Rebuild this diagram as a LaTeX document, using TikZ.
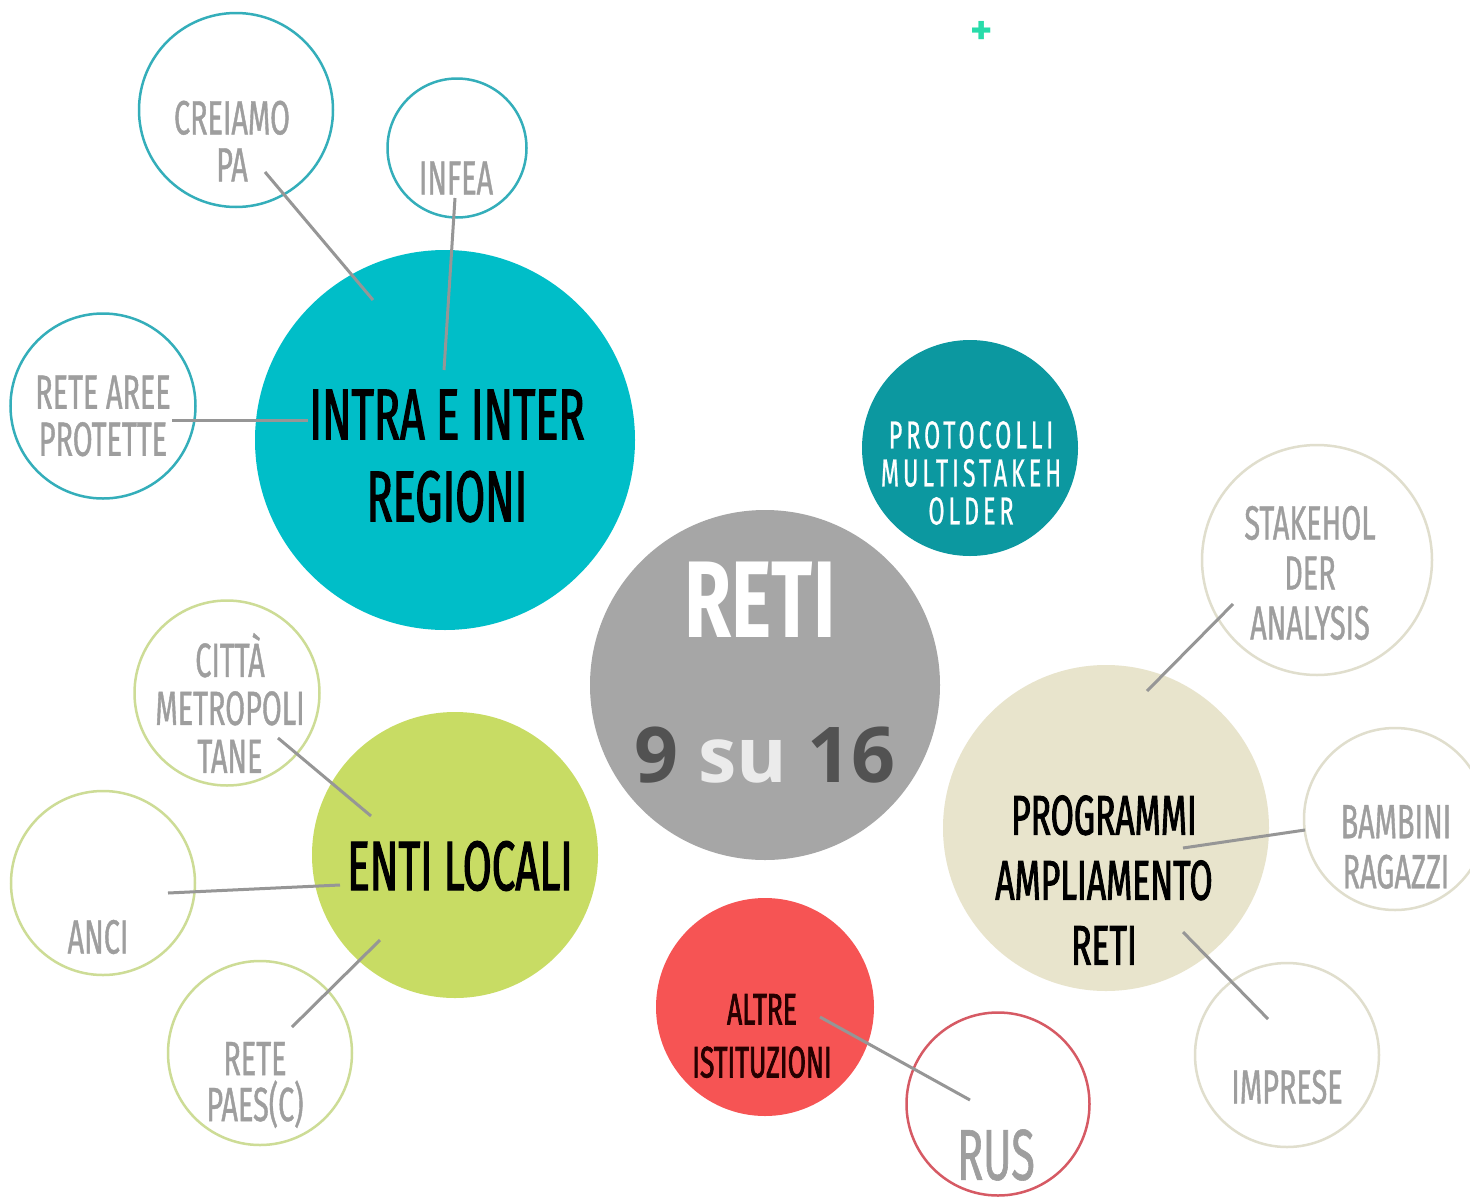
\documentclass[tikz,border=0pt]{standalone}
\usepackage{fontspec}
\setmainfont{Fira Sans}
\newfontfamily\cond[FakeStretch=0.6,FakeBold=0.8]{Fira Sans}
\newfontfamily\condb[FakeStretch=0.6,FakeBold=1.6]{Fira Sans}
\newfontfamily\condsp[FakeStretch=0.6,LetterSpace=10,FakeBold=0.6]{Fira Sans}
\newfontfamily\retifont[FakeStretch=0.7]{Fira Sans}
\newfontfamily\numfont{Open Sans}
\definecolor{tealline}{RGB}{52,174,186}
\definecolor{cyanfill}{RGB}{0,190,200}
\definecolor{protofill}{RGB}{12,152,160}
\definecolor{retifill}{RGB}{166,166,166}
\definecolor{beigefill}{RGB}{232,228,204}
\definecolor{beigeline}{RGB}{224,222,205}
\definecolor{greenfill}{RGB}{200,220,100}
\definecolor{greenline}{RGB}{205,220,150}
\definecolor{redfill}{RGB}{246,84,84}
\definecolor{redline}{RGB}{214,90,100}
\definecolor{labelgray}{RGB}{158,158,158}
\definecolor{linkgray}{RGB}{150,150,150}
\definecolor{numgray}{RGB}{82,82,82}
\definecolor{plusgreen}{RGB}{40,220,170}
\begin{document}
\begin{tikzpicture}[x=1pt,y=-1pt,
  disc/.style={circle,inner sep=0pt,fill=#1,draw=none},
  ring/.style={circle,inner sep=0pt,draw=#1,line width=2.5pt,fill=none},
  link/.style={draw=linkgray,line width=3pt},
  small/.style={text=labelgray,align=center,font=\cond\fontsize{48}{47}\selectfont},
  big/.style={text=black,align=center,font=\condb\fontsize{72}{82}\selectfont}]
\useasboundingbox (0,0) rectangle (1470,1197);
\fill[white] (0,0) rectangle (1470,1197);

% filled circles
\node[disc=cyanfill,minimum size=380pt] (intra) at (445,440) {};
\node[disc=protofill,minimum size=216pt] (proto) at (970,448) {};
\node[disc=retifill,minimum size=350pt] (reti) at (765,685) {};
\node[disc=beigefill,minimum size=326pt] (prog) at (1106,828) {};
\node[disc=redfill,minimum size=218pt] (altre) at (765,1007) {};
\node[disc=greenfill,minimum size=286pt] (enti) at (455,855) {};

% outline circles
\node[ring=tealline,minimum size=194pt] (creiamo) at (236,110) {};
\node[ring=tealline,minimum size=139pt] (infea) at (457,148) {};
\node[ring=tealline,minimum size=185pt] (aree) at (103,406) {};
\node[ring=beigeline,minimum size=230pt] (stake) at (1317,560) {};
\node[ring=beigeline,minimum size=182pt] (bambini) at (1395,819) {};
\node[ring=beigeline,minimum size=184pt] (imprese) at (1287,1055) {};
\node[ring=redline,minimum size=183pt] (rus) at (998,1104) {};
\node[ring=greenline,minimum size=185pt] (citta) at (227,693) {};
\node[ring=greenline,minimum size=184pt] (anci) at (103,883) {};
\node[ring=greenline,minimum size=184pt] (paes) at (260,1053) {};

% connector end points
\coordinate (creiamoE) at (265,172);  \coordinate (intraA) at (373,300);
\coordinate (infeaE) at (455,198);    \coordinate (intraB) at (444,370);
\coordinate (areeE) at (172,420);     \coordinate (intraC) at (308,420);
\coordinate (cittaE) at (278,738);    \coordinate (entiA) at (371,816);
\coordinate (anciE) at (168,893);     \coordinate (entiB) at (340,885);
\coordinate (paesE) at (292,1027);    \coordinate (entiC) at (380,940);
\coordinate (stakeE) at (1233,604);   \coordinate (progA) at (1147,691);
\coordinate (bambiniE) at (1305,830); \coordinate (progB) at (1183,848);
\coordinate (impreseE) at (1268,1019);\coordinate (progC) at (1183,932);
\coordinate (rusE) at (970,1100);     \coordinate (altreA) at (820,1017);

\draw[link] (creiamoE) -- (intraA);
\draw[link] (infeaE) -- (intraB);
\draw[link] (areeE) -- (intraC);
\draw[link] (cittaE) -- (entiA);
\draw[link] (anciE) -- (entiB);
\draw[link] (paesE) -- (entiC);
\draw[link] (stakeE) -- (progA);
\draw[link] (bambiniE) -- (progB);
\draw[link] (impreseE) -- (progC);
\draw[link] (rusE) -- (altreA);

% texts
\node[small] (tcreiamo) at (232,141) {CREIAMO\\PA};
\node[small] (tinfea) at (456,178) {INFEA};
\node[small] (taree) at (103,416) {RETE AREE\\PROTETTE};
\node[big] (tintra) at (447,456) {INTRA E INTER\\REGIONI};
\node[text=white,align=center,font=\condsp\fontsize{39}{38}\selectfont] (tproto) at (971,473) {PROTOCOLLI\\MULTISTAKEH\\OLDER};
\node[text=white,font=\retifont\bfseries\fontsize{109}{110}\selectfont] (treti) at (760,600) {RETI};
\node[font=\numfont\bfseries\fontsize{77}{80}\selectfont,text=numgray] (tnum) at (765,755) {9 \textcolor{white!92!black}{su} 16};
\node[small,font=\cond\fontsize{48}{50}\selectfont] (tstake) at (1310,573) {STAKEHOL\\DER\\ANALYSIS};
\node[text=black,align=center,font=\condb\fontsize{56}{65}\selectfont] (tprog) at (1104,880) {PROGRAMMI\\AMPLIAMENTO\\RETI};
\node[small,font=\cond\fontsize{48}{50}\selectfont] (tbambini) at (1396,847) {BAMBINI\\RAGAZZI};
\node[small] (timprese) at (1287,1087) {IMPRESE};
\node[text=black!85!red,align=center,font=\condb\fontsize{44}{53}\selectfont] (taltre) at (762,1036) {ALTRE\\ISTITUZIONI};
\node[small,font=\cond\fontsize{72}{72}\selectfont] (trus) at (996,1155) {RUS};
\node[big,font=\condb\fontsize{70}{70}\selectfont] (tenti) at (460,866) {ENTI LOCALI};
\node[small,font=\cond\fontsize{48}{48}\selectfont] (tcitta) at (230,703) {CITTÀ\\METROPOLI\\TANE};
\node[small] (tanci) at (98,937) {ANCI};
\node[small,font=\cond\fontsize{48}{46}\selectfont] (tpaes) at (255,1085) {RETE\\PAES(C)};

% plus mark
\node[text=plusgreen,font=\bfseries\fontsize{42}{42}\selectfont] (plus) at (982,33) {+};
\end{tikzpicture}
\end{document}
